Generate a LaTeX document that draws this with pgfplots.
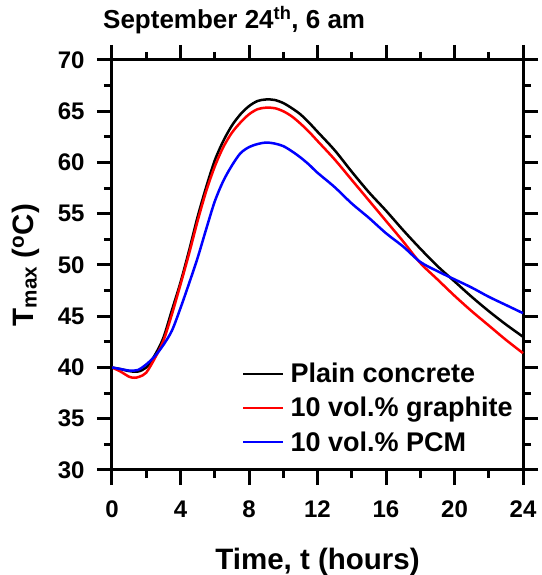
\documentclass[border=0pt]{standalone}
\usepackage{fontspec}
\setmainfont{Liberation Sans}
\usepackage{pgfplots}
\pgfplotsset{compat=1.18}
\begin{document}
\begin{tikzpicture}
\path[use as bounding box] (0,0) rectangle (541pt,575pt);
\begin{axis}[
  at={(112pt,105pt)}, anchor=south west,
  scale only axis, width=411pt, height=410pt,
  clip=false,
  xmin=0, xmax=24, ymin=30, ymax=70,
  xtick={0,4,...,24}, ytick={30,35,...,70},
  minor x tick num=1, minor y tick num=1,
  tick align=outside,
  axis line style={line width=3pt},
  tick label style={font=\fontsize{24}{28}\selectfont\bfseries},
  xticklabel style={yshift=-12pt},
  yticklabel style={xshift=-9pt},
  /pgf/number format/assume math mode=true,
  xlabel={Time, t (hours)},
  ylabel={T\textsubscript{max} (\textsuperscript{o}C)},
  label style={font=\fontsize{29.5}{34}\selectfont\bfseries},
  xlabel style={at={(axis description cs:0.5,-0.2439)}, anchor=base},
  ylabel style={at={(axis description cs:-0.1922,0.5)}, anchor=base},
  title={September 24\textsuperscript{th}, 6 am},
  every axis title/.style={at={(axis description cs:-0.0219,1.0756)}, anchor=base west,
    font=\fontsize{26}{30}\selectfont\bfseries, inner sep=0pt},
  legend style={at={(axis description cs:0.316,0.263)}, anchor=north west,
    draw=none, fill=none, font=\fontsize{27}{32}\selectfont\bfseries,
    row sep=11pt, inner sep=0pt,
    nodes={inner sep=1pt},
    /tikz/every odd column/.append style={column sep=5pt}},
  legend cell align=left,
  legend image code/.code={\draw[#1] (0pt,0pt) -- (40pt,0pt);},
  major tick length=15pt, minor tick length=8pt,
  tick style={color=black, line width=3pt},
]
\addplot[black, line width=2.5pt, smooth] coordinates {
(0,40.0) (0.5,39.85) (1,39.65) (1.5,39.6) (2,40.0) (2.5,41.2) (3,42.9) (3.5,45.6)
(4,48.3) (4.5,51.4) (5,54.7) (5.5,57.6) (6,60.2) (6.5,62.1) (7,63.6) (7.5,64.7)
(8,65.5) (8.5,66.0) (9,66.15) (9.5,66.1) (10,65.8) (10.5,65.3) (11,64.7) (11.5,63.9)
(12,63.0) (13,61.2) (14,59.1) (15,57.1) (16,55.3) (17,53.4) (18,51.6) (19,49.9)
(20,48.4) (21,46.9) (22,45.5) (23,44.2) (24,43.0)};
\addlegendentry{Plain concrete}
\addplot[red, line width=2.5pt, smooth] coordinates {
(0,40.0) (0.5,39.6) (1,39.1) (1.3,39.0) (1.6,39.1) (2,39.5) (2.5,40.9) (3,42.6) (3.5,45.2)
(4,48.1) (4.5,51.1) (5,54.3) (5.5,57.2) (6,59.6) (6.5,61.5) (7,62.9) (7.5,63.9)
(8,64.7) (8.5,65.2) (9,65.35) (9.5,65.3) (10,65.0) (10.5,64.5) (11,63.8) (11.5,63.0)
(12,62.1) (13,60.3) (14,58.3) (15,56.3) (16,54.3) (17,52.3) (18,50.2) (19,48.6)
(20,47.0) (21,45.5) (22,44.1) (23,42.7) (24,41.4)};
\addlegendentry{10 vol.\% graphite}
\addplot[blue, line width=2.5pt, smooth] coordinates {
(0,40.0) (0.5,39.85) (1,39.7) (1.5,39.75) (2,40.3) (2.5,41.1) (3,42.2) (3.5,43.6)
(4,45.8) (4.5,48.2) (5,50.7) (5.5,53.5) (6,56.2) (6.5,58.2) (7,59.7) (7.5,60.9)
(8,61.5) (8.5,61.8) (9,61.95) (9.5,61.85) (10,61.6) (10.5,61.1) (11,60.5) (11.5,59.8)
(12,59.0) (13,57.6) (14,56.0) (15,54.6) (16,53.1) (17,51.8) (18,50.3) (19,49.4)
(20,48.6) (21,47.8) (22,46.9) (23,46.1) (24,45.3)};
\addlegendentry{10 vol.\% PCM}
\pgfplotsinvokeforeach{0,4,8,12,16,20,24}{
  \draw[line width=3pt] (axis cs:#1,30) -- ([yshift=-15pt]axis cs:#1,30);
  \draw[line width=3pt] (axis cs:#1,70) -- ([yshift=15pt]axis cs:#1,70);
}
\pgfplotsinvokeforeach{2,6,10,14,18,22}{
  \draw[line width=3pt] (axis cs:#1,30) -- ([yshift=-8pt]axis cs:#1,30);
  \draw[line width=3pt] (axis cs:#1,70) -- ([yshift=8pt]axis cs:#1,70);
}
\pgfplotsinvokeforeach{30,35,40,45,50,55,60,65,70}{
  \draw[line width=3pt] (axis cs:0,#1) -- ([xshift=-15pt]axis cs:0,#1);
  \draw[line width=3pt] (axis cs:24,#1) -- ([xshift=15pt]axis cs:24,#1);
}
\pgfplotsinvokeforeach{32.5,37.5,42.5,47.5,52.5,57.5,62.5,67.5}{
  \draw[line width=3pt] (axis cs:0,#1) -- ([xshift=-8pt]axis cs:0,#1);
  \draw[line width=3pt] (axis cs:24,#1) -- ([xshift=8pt]axis cs:24,#1);
}
\end{axis}
\end{tikzpicture}
\end{document}
